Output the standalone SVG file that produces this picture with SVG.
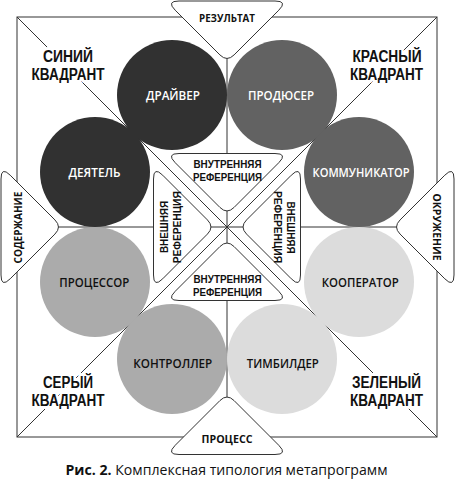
<svg xmlns="http://www.w3.org/2000/svg" xmlns:xlink="http://www.w3.org/1999/xlink" width="455" height="489" viewBox="0 0 455 489">
<style>
.ln{stroke:#333;stroke-width:1;fill:none}
.tri{fill:#fff;stroke:#333;stroke-width:1}
.t{font-family:"Open Sans","Noto Sans","DejaVu Sans",sans-serif;font-weight:700;text-anchor:middle;fill:#111}
.ls{font-family:"Liberation Sans",Arial,sans-serif}
.q{font-size:15.8px;stroke:#fff;stroke-width:6;stroke-linejoin:round;paint-order:stroke}
.c{font-size:13px;font-weight:600}
.w{fill:#fff}
.o{font-size:11px}
.i{font-size:11px}
.cap{font-family:"Open Sans","Noto Sans","DejaVu Sans",sans-serif;font-size:14px;fill:#111;text-anchor:middle}
</style>
<defs>
<path id="tab" d="M-51.81,9.19 Q-61,0 -48,0 L48,0 Q61,0 51.81,9.19 L7.07,53.93 Q0,61 -7.07,53.93 Z"/>
</defs>
<rect width="455" height="489" fill="#fff"/>
<g id="connectors">
<rect class="ln" x="17" y="17" width="420" height="420"/>
<line class="ln" x1="17" y1="17" x2="437" y2="437"/>
<line class="ln" x1="437" y1="17" x2="17" y2="437"/>
<line class="ln" x1="227" y1="17" x2="227" y2="437"/>
<line class="ln" x1="17" y1="227" x2="437" y2="227"/>
</g>
<g id="driver"><circle cx="172" cy="95" r="55" fill="#313131"/><text class="t c w" x="173" y="100" textLength="54" lengthAdjust="spacingAndGlyphs">ДРАЙВЕР</text></g>
<g id="producer"><circle cx="282" cy="95" r="55" fill="#626262"/><text class="t c w" x="281" y="100" textLength="66" lengthAdjust="spacingAndGlyphs">ПРОДЮСЕР</text></g>
<g id="doer"><circle cx="95" cy="172" r="55" fill="#313131"/><text class="t c w" x="94.5" y="176.7" textLength="52" lengthAdjust="spacingAndGlyphs">ДЕЯТЕЛЬ</text></g>
<g id="communicator"><circle cx="359" cy="172" r="55" fill="#626262"/><text class="t c w" x="361" y="176.7" textLength="97" lengthAdjust="spacingAndGlyphs">КОММУНИКАТОР</text></g>
<g id="processor"><circle cx="95" cy="282" r="55" fill="#ababab"/><text class="t c" x="94.3" y="286.5" textLength="70" lengthAdjust="spacingAndGlyphs">ПРОЦЕССОР</text></g>
<g id="cooperator"><circle cx="359" cy="282" r="55" fill="#dcdcdc"/><text class="t c" x="360.3" y="286.5" textLength="77" lengthAdjust="spacingAndGlyphs">КООПЕРАТОР</text></g>
<g id="controller"><circle cx="172" cy="359" r="55" fill="#ababab"/><text class="t c" x="172.8" y="367.7" textLength="79" lengthAdjust="spacingAndGlyphs">КОНТРОЛЛЕР</text></g>
<g id="teambuilder"><circle cx="282" cy="359" r="55" fill="#dcdcdc"/><text class="t c" x="282.8" y="367.7" textLength="72" lengthAdjust="spacingAndGlyphs">ТИМБИЛДЕР</text></g>
<g id="result"><use xlink:href="#tab" class="tri" transform="translate(227,1)"/><text class="t o" x="227" y="21.5" textLength="56" lengthAdjust="spacingAndGlyphs">РЕЗУЛЬТАТ</text></g>
<g id="process"><use xlink:href="#tab" class="tri" transform="translate(227,454.5) rotate(180)"/><text class="t o" x="227" y="443" textLength="51" lengthAdjust="spacingAndGlyphs">ПРОЦЕСС</text></g>
<g id="content"><use xlink:href="#tab" class="tri" transform="translate(1,227) rotate(-90)"/><text class="t o" transform="translate(21.6,227.5) rotate(-90)" x="0" y="0" textLength="72" lengthAdjust="spacingAndGlyphs">СОДЕРЖАНИЕ</text></g>
<g id="environment"><use xlink:href="#tab" class="tri" transform="translate(454,227) rotate(90)"/><text class="t o" transform="translate(433.4,227) rotate(90)" x="0" y="0" textLength="67" lengthAdjust="spacingAndGlyphs">ОКРУЖЕНИЕ</text></g>
<g id="internal-top"><use xlink:href="#tab" class="tri" transform="translate(227,153.5)"/><text class="t ls i" x="227.5" y="168.3" textLength="68" lengthAdjust="spacingAndGlyphs">ВНУТРЕННЯЯ</text><text class="t ls i" x="227.5" y="180.8" textLength="69" lengthAdjust="spacingAndGlyphs">РЕФЕРЕНЦИЯ</text></g>
<g id="internal-bottom"><use xlink:href="#tab" class="tri" transform="translate(227,300.5) rotate(180)"/><text class="t ls i" x="227.5" y="283.4" textLength="68" lengthAdjust="spacingAndGlyphs">ВНУТРЕННЯЯ</text><text class="t ls i" x="227.5" y="296.3" textLength="69" lengthAdjust="spacingAndGlyphs">РЕФЕРЕНЦИЯ</text></g>
<g id="external-left"><use xlink:href="#tab" class="tri" transform="translate(153.5,227) rotate(-90)"/><text class="t ls i" transform="translate(168.3,227) rotate(-90)" x="0" y="0" textLength="52" lengthAdjust="spacingAndGlyphs">ВНЕШНЯЯ</text><text class="t ls i" transform="translate(181.3,227.3) rotate(-90)" x="0" y="0" textLength="72" lengthAdjust="spacingAndGlyphs">РЕФЕРЕНЦИЯ</text></g>
<g id="external-right"><use xlink:href="#tab" class="tri" transform="translate(300.5,227) rotate(90)"/><text class="t ls i" transform="translate(286.7,227.5) rotate(90)" x="0" y="0" textLength="52" lengthAdjust="spacingAndGlyphs">ВНЕШНЯЯ</text><text class="t ls i" transform="translate(273.7,227) rotate(90)" x="0" y="0" textLength="72" lengthAdjust="spacingAndGlyphs">РЕФЕРЕНЦИЯ</text></g>
<g id="blue-quadrant"><text class="t ls q" x="68" y="62" textLength="50" lengthAdjust="spacingAndGlyphs">СИНИЙ</text><text class="t ls q" x="68" y="80" textLength="73" lengthAdjust="spacingAndGlyphs">КВАДРАНТ</text></g>
<g id="red-quadrant"><text class="t ls q" x="387" y="62" textLength="69" lengthAdjust="spacingAndGlyphs">КРАСНЫЙ</text><text class="t ls q" x="386.5" y="80" textLength="73" lengthAdjust="spacingAndGlyphs">КВАДРАНТ</text></g>
<g id="gray-quadrant"><text class="t ls q" x="68" y="388" textLength="50" lengthAdjust="spacingAndGlyphs">СЕРЫЙ</text><text class="t ls q" x="68" y="406" textLength="73" lengthAdjust="spacingAndGlyphs">КВАДРАНТ</text></g>
<g id="green-quadrant"><text class="t ls q" x="386.5" y="388" textLength="69" lengthAdjust="spacingAndGlyphs">ЗЕЛЕНЫЙ</text><text class="t ls q" x="386.5" y="406" textLength="73" lengthAdjust="spacingAndGlyphs">КВАДРАНТ</text></g>
<g id="caption"><text class="cap" x="226.5" y="475" textLength="322" lengthAdjust="spacingAndGlyphs"><tspan font-weight="700">Рис. 2.</tspan> Комплексная типология метапрограмм</text></g>
</svg>
